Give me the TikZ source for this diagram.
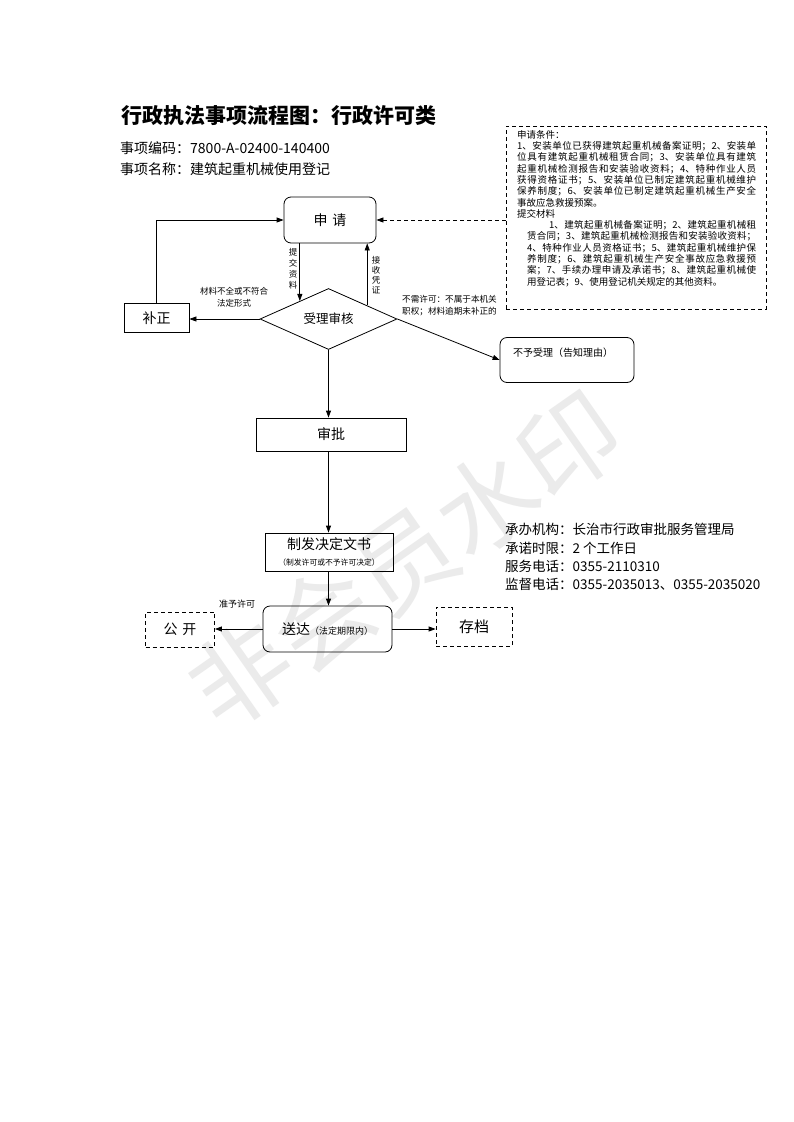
\documentclass[tikz,border=0pt]{standalone}
\usepackage{fontspec}
\setmainfont{Noto Sans CJK SC}
\usetikzlibrary{shapes.geometric,arrows.meta,calc}
\XeTeXlinebreaklocale "zh"
\XeTeXlinebreakskip=0pt plus 3pt
\newcommand\myfs[1]{\fontsize{#1}{#1}\selectfont}
\tikzset{
  box/.style={draw, line width=0.8pt, inner sep=0pt, font=\myfs{14}},
  rbox/.style={box, rounded corners=7pt},
  dbox/.style={box, dash pattern=on 4pt off 3pt},
  arr/.style={line width=0.8pt, -{Triangle[length=7pt,width=5pt]}},
  lbl/.style={inner sep=0pt, font=\myfs{8.5}},
  info/.style={anchor=west, inner sep=0pt, font=\myfs{13.5}},
}
\begin{document}
\begin{tikzpicture}[x=1pt,y=-1pt]
\useasboundingbox (0,0) rectangle (793,1122);
\fill[white] (0,0) rectangle (793,1122);
% watermark
\node[rotate=35, text=black!8, font=\myfs{100}, inner sep=0pt] (wm) at (405,560) {非会员水印};
% header
\node[anchor=west, inner sep=0pt, font=\myfs{21}\bfseries] (title) at (121,116) {行政执法事项流程图：行政许可类};
\node[anchor=west, inner sep=0pt, font=\myfs{14}] (code) at (120,148) {事项编码：7800-A-02400-140400};
\node[anchor=west, inner sep=0pt, font=\myfs{14}] (name) at (120,169) {事项名称：建筑起重机械使用登记};
% conditions box
\node[dbox, minimum width=260pt, minimum height=183pt] (tj) at (636,217.5) {};
\node[anchor=north west, inner sep=0pt, text width=239pt, align=justify, font=\fontsize{9.5}{11.3}\selectfont] (tjtext) at (517,130)
{申请条件：\par
1、安装单位已获得建筑起重机械备案证明；2、安装单\linebreak
位具有建筑起重机械租赁合同；3、安装单位具有建筑\linebreak
起重机械检测报告和安装验收资料；4、特种作业人员\linebreak
获得资格证书；5、安装单位已制定建筑起重机械维护\linebreak
保养制度；6、安装单位已制定建筑起重机械生产安全\linebreak
事故应急救援预案。\par
提交材料\par
\leftskip=10pt\hspace*{22pt}1、建筑起重机械备案证明；2、建筑起重机械租\linebreak
赁合同；3、建筑起重机械检测报告和安装验收资料；\linebreak
4、特种作业人员资格证书；5、建筑起重机械维护保\linebreak
养制度；6、建筑起重机械生产安全事故应急救援预\linebreak
案；7、手续办理申请及承诺书；8、建筑起重机械使\linebreak
用登记表；9、使用登记机关规定的其他资料。\par};
% flow nodes
\node[rbox, minimum width=92pt, minimum height=46pt] (shen) at (330,220) {申\,\,请};
\node[box, minimum width=65pt, minimum height=29pt] (buz) at (156.5,318) {补正};
\node[diamond, draw, line width=0.8pt, minimum width=137pt, minimum height=61pt, inner sep=0pt, aspect=2.25, font=\myfs{12.5}] (dia) at (328.5,319) {受理审核};
\node[rbox, minimum width=134pt, minimum height=45pt] (buyu) at (567,360) {};
\node[anchor=west, inner sep=0pt, font=\myfs{10}] (buyut) at (513,353) {不予受理（告知理由）};
\node[box, minimum width=150pt, minimum height=33pt] (sp) at (331,434.5) {审批};
\node[box, minimum width=128pt, minimum height=38pt, align=center, font=\fontsize{14}{16}\selectfont] (zf) at (329,552) {制发决定文书\\{\fontsize{7.8}{9}\selectfont（制发许可或不予许可决定）}};
\node[rbox, minimum width=129pt, minimum height=46pt] (sd) at (327.5,629) {送达\raisebox{-0.5pt}{\myfs{9}（法定期限内）}};
\node[dbox, minimum width=69pt, minimum height=35pt] (gk) at (180,629.5) {公\,\,开};
\node[dbox, minimum width=76pt, minimum height=39pt, font=\myfs{15}] (cd) at (474,626.5) {存档};
% edge points on diamond
\coordinate (d1) at ($(dia.north)!0.416!(dia.west)$);
\coordinate (d2) at ($(dia.north)!0.562!(dia.east)$);
% connectors
\draw[arr, dash pattern=on 4pt off 3pt] (tj.west |- shen.east) -- (shen.east);
\draw[arr] (buz.north) |- (shen.west);
\draw[arr] (shen.south -| d1) -- (d1);
\draw[arr] (d2) -- (d2 |- shen.south);
\draw[arr] (dia.west) -- (buz.east |- dia.west);
\draw[arr] (dia.east) -- (buyu.west);
\draw[arr] (dia.south) -- (dia.south |- sp.north);
\draw[arr] (dia.south |- sp.south) -- (dia.south |- zf.north);
\draw[arr] (dia.south |- zf.south) -- (dia.south |- sd.north);
\draw[arr] (sd.west) -- (gk.east |- sd.west);
\draw[arr] (sd.east) -- (cd.west |- sd.east);
% labels
\node[lbl, align=center, font=\fontsize{8.5}{11}\selectfont] (l1) at (293,268.5) {提\\交\\资\\料};
\node[lbl, align=center, font=\fontsize{8.5}{10}\selectfont] (l2) at (376,275) {接\\收\\凭\\证};
\node[lbl, align=center, font=\fontsize{8.5}{12}\selectfont] (l3) at (234,297) {材料不全或不符合\\法定形式};
\node[lbl, align=left, font=\fontsize{8.6}{12}\selectfont, anchor=west] (l4) at (402,306) {不需许可：不属于本机关\\职权；材料逾期未补正的};
\node[lbl, font=\myfs{9}] (l5) at (237,604) {准予许可};
% info
\node[info] (i1) at (505,529) {承办机构：长治市行政审批服务管理局};
\node[info] (i2) at (505,548) {承诺时限：2 个工作日};
\node[info] (i3) at (505,566) {服务电话：0355-2110310};
\node[info] (i4) at (505,584) {监督电话：0355-2035013、0355-2035020};
\end{tikzpicture}
\end{document}
